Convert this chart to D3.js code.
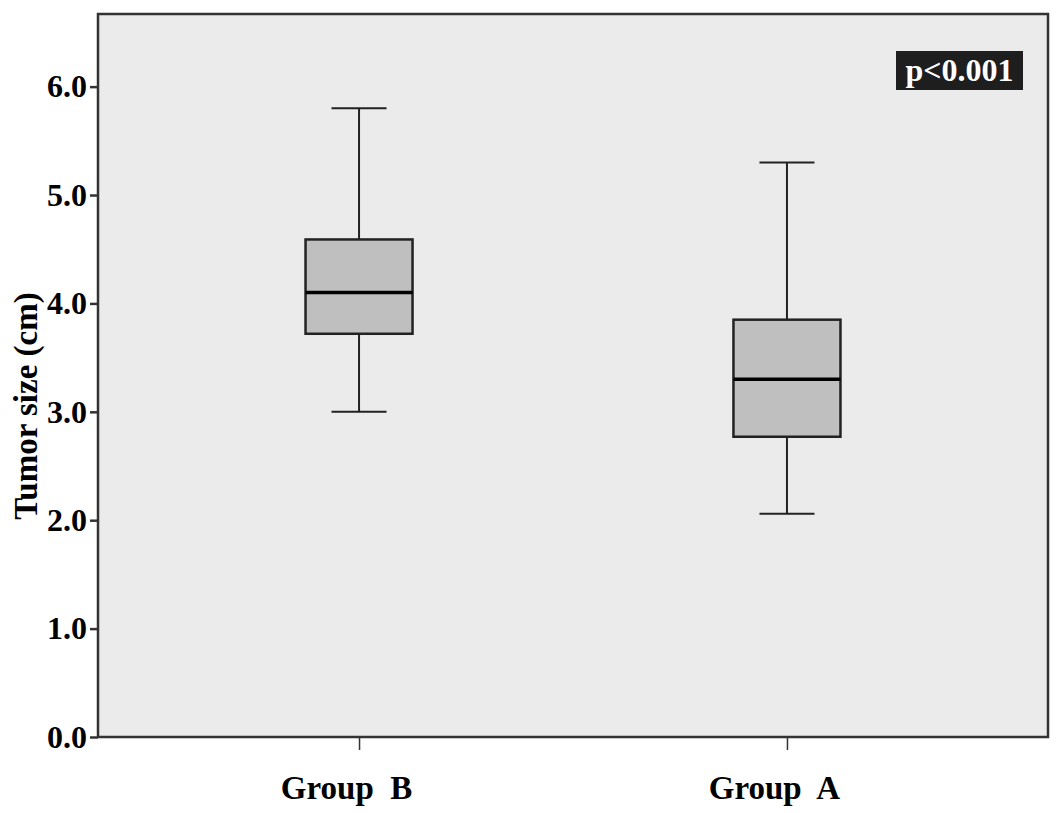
<!DOCTYPE html>
<html><head><meta charset="utf-8">
<script src="https://cdn.jsdelivr.net/npm/d3@7"></script>
<style>body{margin:0;background:#fff;} svg{display:block;}</style>
</head><body>
<svg id="chart" width="1063" height="813"></svg>
<script>
const groups = ["Group  B", "Group  A"];
const whiskerLow = [3.0, 2.06];
const q1 = [3.72, 2.77];
const median = [4.1, 3.3];
const q3 = [4.59, 3.85];
const whiskerHigh = [5.8, 5.3];
const yTicks = [0, 1, 2, 3, 4, 5, 6];
const pLabel = "p<0.001";

const svg = d3.select("#chart");
const L = 98, R = 1048, T = 14, B = 737;
const x = d3.scalePoint().domain(groups).range([L, R]).padding(0.61);
const y = d3.scaleLinear().domain([0, 6.67]).range([B, T]);
const font = "'Liberation Serif','Times New Roman',serif";

svg.append("rect").attr("x", L).attr("y", T).attr("width", R - L).attr("height", B - T)
  .attr("fill", "#ebebeb").attr("stroke", "#333").attr("stroke-width", 2.5);

const yAxis = svg.append("g").attr("transform", `translate(${L},0)`)
  .call(d3.axisLeft(y).tickValues(yTicks).tickFormat(d3.format(".1f")).tickSize(8).tickPadding(3));
yAxis.select(".domain").remove();
yAxis.selectAll(".tick line").attr("stroke", "#333").attr("stroke-width", 2.5);
yAxis.selectAll(".tick text").attr("font-family", font).attr("font-weight", "bold")
  .attr("font-size", 32).attr("fill", "#000");

const xAxis = svg.append("g").attr("transform", `translate(0,${B})`)
  .call(d3.axisBottom(x).tickSize(13).tickPadding(26));
xAxis.select(".domain").remove();
xAxis.selectAll(".tick line").attr("stroke", "#333").attr("stroke-width", 1.5);
xAxis.selectAll(".tick text").attr("font-family", font).attr("font-weight", "bold")
  .attr("font-size", 33).attr("fill", "#000").attr("dx", -13).style("white-space", "pre");

svg.append("text").attr("transform", `translate(37,406) rotate(-90)`)
  .attr("text-anchor", "middle").attr("font-family", font).attr("font-weight", "bold")
  .attr("font-size", 33).text("Tumor size (cm)");

const boxW = 107, capW = 55;
groups.forEach((g, i) => {
  const cx = x(g);
  const gg = svg.append("g");
  gg.append("line").attr("x1", cx).attr("x2", cx).attr("y1", y(whiskerHigh[i])).attr("y2", y(q3[i]))
    .attr("stroke", "#222").attr("stroke-width", 2);
  gg.append("line").attr("x1", cx).attr("x2", cx).attr("y1", y(q1[i])).attr("y2", y(whiskerLow[i]))
    .attr("stroke", "#222").attr("stroke-width", 2);
  [whiskerHigh[i], whiskerLow[i]].forEach(v => {
    gg.append("line").attr("x1", cx - capW / 2).attr("x2", cx + capW / 2).attr("y1", y(v)).attr("y2", y(v))
      .attr("stroke", "#222").attr("stroke-width", 2);
  });
  gg.append("rect").attr("x", cx - boxW / 2).attr("width", boxW)
    .attr("y", y(q3[i])).attr("height", y(q1[i]) - y(q3[i]))
    .attr("fill", "#bfbfbf").attr("stroke", "#222").attr("stroke-width", 2.5);
  gg.append("line").attr("x1", cx - boxW / 2).attr("x2", cx + boxW / 2).attr("y1", y(median[i])).attr("y2", y(median[i]))
    .attr("stroke", "#000").attr("stroke-width", 3.5);
});

svg.append("rect").attr("x", 896).attr("y", 51).attr("width", 127).attr("height", 39).attr("fill", "#1e1e1e");
svg.append("text").attr("x", 959.5).attr("y", 81).attr("text-anchor", "middle")
  .attr("font-family", font).attr("font-weight", "bold").attr("font-size", 32).attr("fill", "#fff").text(pLabel);
</script>
</body></html>
